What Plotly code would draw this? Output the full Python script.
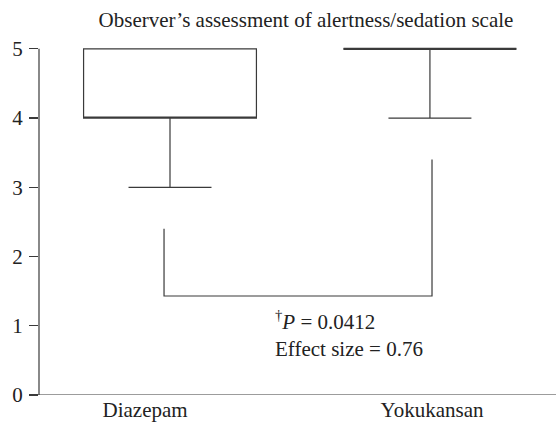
import plotly.graph_objects as go

# ---- data ----
groups = ["Diazepam", "Yokukansan"]
group_pos = [0, 1]
q1 = [4, 5]
median = [4, 5]
q3 = [5, 5]
lower_fence = [3, 4]
upper_fence = [5, 5]
y_ticks = [0, 1, 2, 3, 4, 5]
bracket_top = [2.4, 3.4]   # left / right ends of comparison bracket
bracket_bottom = 1.43
p_value = "0.0412"
effect_size = "0.76"
title = "Observer\u2019s assessment of alertness/sedation scale"

INK = "#3a3a3a"
FONT = "Liberation Serif, DejaVu Serif, serif"
FS = 21
TXT = dict(family=FONT, size=FS, color="#222")

fig = go.Figure()
for i in range(len(groups)):
    fig.add_trace(go.Box(
        x=[group_pos[i]], q1=[q1[i]], median=[median[i]], q3=[q3[i]],
        lowerfence=[lower_fence[i]], upperfence=[upper_fence[i]],
        width=0.665, whiskerwidth=0.48, boxpoints=False,
        fillcolor="rgba(0,0,0,0)", line=dict(color=INK, width=1.2),
        hoverinfo="skip", showlegend=False, name=groups[i],
    ))

# thicker median line for Yokukansan (box collapsed to its median)
fig.add_trace(go.Box(
    x=[group_pos[1]], q1=[median[1]], median=[median[1]], q3=[median[1]],
    lowerfence=[median[1]], upperfence=[median[1]],
    width=0.665, whiskerwidth=0, boxpoints=False,
    fillcolor="rgba(0,0,0,0)", line=dict(color=INK, width=2.4),
    hoverinfo="skip", showlegend=False, name=groups[1],
))

# comparison bracket
bx = [group_pos[0] - 0.023, group_pos[0] - 0.023, group_pos[1] + 0.008, group_pos[1] + 0.008]
by = [bracket_top[0], bracket_bottom, bracket_bottom, bracket_top[1]]
fig.add_trace(go.Scatter(x=bx, y=by, mode="lines", line=dict(color=INK, width=1.2),
                         hoverinfo="skip", showlegend=False))

fig.add_annotation(
    x=0.398, y=bracket_bottom - 0.13, xref="x", yref="y",
    xanchor="left", yanchor="top", align="left", showarrow=False,
    text=f"<sup>\u2020</sup><i>P</i> = {p_value}<br>Effect size = {effect_size}",
    font=TXT,
)

# axis lines as decorations
fig.add_shape(type="line", xref="paper", yref="y", x0=0, x1=0, y0=0, y1=5,
              line=dict(color=INK, width=1.2))
fig.add_shape(type="line", xref="paper", yref="y", x0=-9 / 517, x1=1, y0=0, y1=0,
              line=dict(color=INK, width=1.2))

fig.update_layout(
    width=556, height=427,
    margin=dict(l=39, r=0, t=35, b=32, autoexpand=False),
    plot_bgcolor="white", paper_bgcolor="white",
    title=dict(text=title, x=306 / 556, xanchor="center", xref="container",
               y=1 - 20 / 427, yanchor="middle", font=TXT),
    font=TXT,
    xaxis=dict(range=[-0.504, 1.485], tickvals=[-0.096, 1.008], ticktext=groups,
               showgrid=False, zeroline=False, showline=False, ticks="",
               tickfont=TXT, automargin=False),
    yaxis=dict(range=[0, 5.2], tickvals=y_ticks, showgrid=False, zeroline=False,
               showline=False, ticks="outside", ticklen=9, tickwidth=1.2, tickcolor=INK,
               ticklabelstandoff=2, tickfont=TXT, automargin=False),
)

fig.write_html("out.html", config={"displayModeBar": False, "staticPlot": True},
               post_script="document.body.style.margin='0';document.body.style.overflow='hidden';")
